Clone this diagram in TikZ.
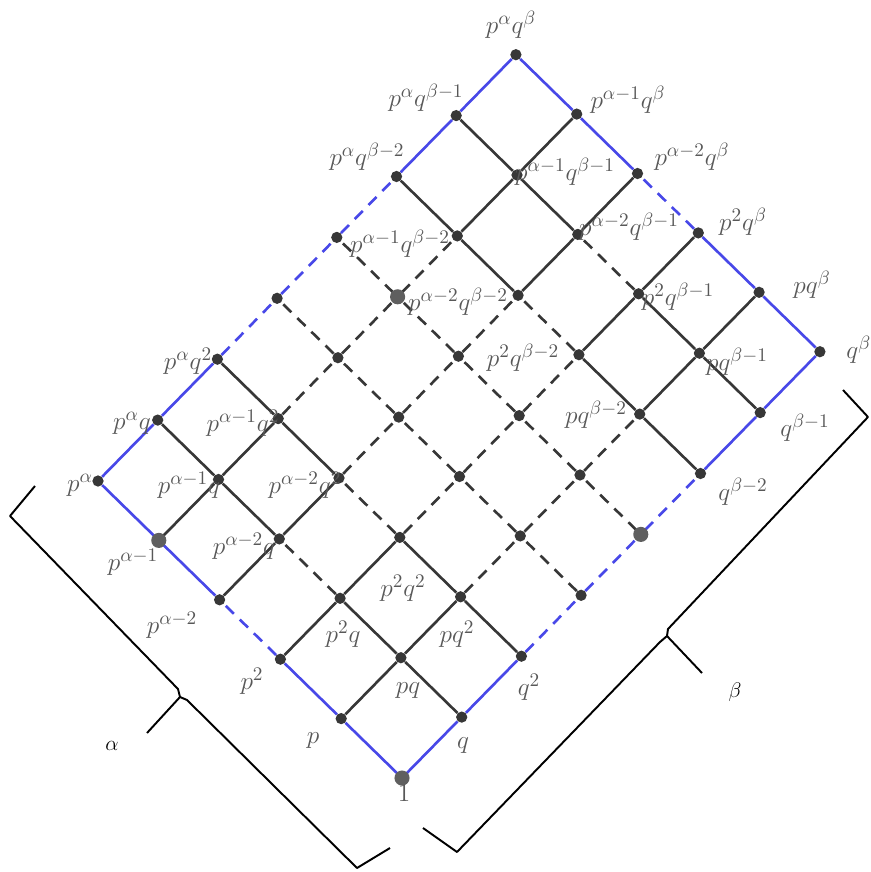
\documentclass[tikz,border=0pt]{standalone}
\usepackage{amsmath,amssymb}
\usepackage{tikz}
\usetikzlibrary{calc}
\definecolor{latblue}{RGB}{72,72,232}
\definecolor{latgray}{RGB}{55,55,55}
\definecolor{labgray}{RGB}{88,88,88}
\tikzset{
  vert/.style={circle,fill=latgray,inner sep=0pt,minimum size=6.4pt},
  bigvert/.style={circle,fill=latgray!80,inner sep=0pt,minimum size=8.6pt},
  % ln<blue><dashed>
  ln00/.style={line width=1.5pt,draw=latgray},
  ln01/.style={line width=1.5pt,draw=latgray,dash pattern=on 6.5pt off 4.7pt},
  ln10/.style={line width=1.5pt,draw=latblue},
  ln11/.style={line width=1.5pt,draw=latblue,dash pattern=on 6.5pt off 4.7pt},
  bracket/.style={line width=1.1pt,draw=black,line join=round}
}

\begin{document}
\begin{tikzpicture}[
  x=0.02cm,y=-0.02cm,
  lbl/.style={font=\fontsize{15.5}{18}\selectfont,text=labgray,inner sep=0pt},
  bracetxt/.style={font=\fontsize{13}{15}\selectfont,text=black}
]

\useasboundingbox (0,0) rectangle (870,872);

% lattice points p^i q^j
\foreach \i in {0,...,5}
  \foreach \j in {0,...,7}
    \node[vert] (v\i\j) at ({402-60.8*\i+59.7*\j},{778-59.4*\i-60.9*\j}) {};

% steps along p
\foreach \j in {0,...,7}
  \foreach \i in {0,...,4}{
    \pgfmathtruncatemacro\k{\i+1}
    \pgfmathtruncatemacro\blu{(\j==0)||(\j==7)}
    \pgfmathtruncatemacro\dsh{(\i==2)||(\j==3)||(\j==4)}
    \draw[ln\blu\dsh] (v\i\j) -- (v\k\j);
  }

% steps along q
\foreach \i in {0,...,5}
  \foreach \j in {0,...,6}{
    \pgfmathtruncatemacro\k{\j+1}
    \pgfmathtruncatemacro\blu{(\i==0)||(\i==5)}
    \pgfmathtruncatemacro\dsh{(\j>1)&&(\j<5)}
    \draw[ln\blu\dsh] (v\i\j) -- (v\i\k);
  }

\node[bigvert] (w00) at (v00) {};
\node[bigvert] (w40) at (v40) {};
\node[bigvert] (w44) at (v44) {};
\node[bigvert] (w04) at (v04) {};

% top block
\node[lbl] (l57) at (511,25)  {$p^{\alpha}q^{\beta}$};
\node[lbl] (l56) at (426,98)  {$p^{\alpha}q^{\beta-1}$};
\node[lbl] (l47) at (628,100) {$p^{\alpha-1}q^{\beta}$};
\node[lbl] (l55) at (367,157) {$p^{\alpha}q^{\beta-2}$};
\node[lbl] (l37) at (692,157) {$p^{\alpha-2}q^{\beta}$};
\node[lbl] (l46) at (565,172) {$p^{\alpha-1}q^{\beta-1}$};
\node[lbl] (l45) at (400,244) {$p^{\alpha-1}q^{\beta-2}$};
\node[lbl] (l36) at (629,227) {$p^{\alpha-2}q^{\beta-1}$};
\node[lbl] (l35) at (458,302) {$p^{\alpha-2}q^{\beta-2}$};

% right block
\node[lbl] (l27) at (743,222) {$p^{2}q^{\beta}$};
\node[lbl] (l17) at (812,285) {$pq^{\beta}$};
\node[lbl,anchor=west] (l07) at (846,350) {$q^{\beta}$};
\node[lbl] (l26) at (678,297) {$p^{2}q^{\beta-1}$};
\node[lbl] (l25) at (523,358) {$p^{2}q^{\beta-2}$};
\node[lbl] (l16) at (737,362) {$pq^{\beta-1}$};
\node[lbl] (l15) at (596,415) {$pq^{\beta-2}$};
\node[lbl] (l06) at (805,428) {$q^{\beta-1}$};
\node[lbl] (l05) at (743,492) {$q^{\beta-2}$};

% left block
\node[lbl] (l52) at (188,361) {$p^{\alpha}q^{2}$};
\node[lbl] (l51) at (132,423) {$p^{\alpha}q$};
\node[lbl] (l42) at (243,423) {$p^{\alpha-1}q^{2}$};
\node[lbl] (l50) at (80,485)  {$p^{\alpha}$};
\node[lbl] (l41) at (189,485) {$p^{\alpha-1}q$};
\node[lbl] (l32) at (305,485) {$p^{\alpha-2}q^{2}$};
\node[lbl] (l31) at (244,546) {$p^{\alpha-2}q$};
\node[lbl] (l40) at (133,562) {$p^{\alpha-1}$};
\node[lbl] (l30) at (172,625) {$p^{\alpha-2}$};

% bottom block
\node[lbl] (l22) at (403,588) {$p^{2}q^{2}$};
\node[lbl] (l21) at (343,634) {$p^{2}q$};
\node[lbl] (l12) at (457,634) {$pq^{2}$};
\node[lbl] (l20) at (252,681) {$p^{2}$};
\node[lbl] (l11) at (408,691) {$pq$};
\node[lbl] (l02) at (529,687) {$q^{2}$};
\node[lbl] (l10) at (313,741) {$p$};
\node[lbl] (l01) at (463,746) {$q$};
\node[lbl] (l00) at (404,793) {$1$};

% brackets
\draw[bracket] (35,486) -- (10,516) -- (178,689) -- (180,697) -- (147,733);
\draw[bracket] (180,697) -- (187,700) -- (357,868) -- (390,848);
\node[bracetxt] (alab) at (112,746) {$\alpha$};

\draw[bracket] (843,390) -- (868,417) -- (668,629) -- (667,636) -- (702,673);
\draw[bracket] (667,636) -- (660,642) -- (457,852) -- (423,828);
\node[bracetxt] (blab) at (735,692) {$\beta$};

\end{tikzpicture}
\end{document}
